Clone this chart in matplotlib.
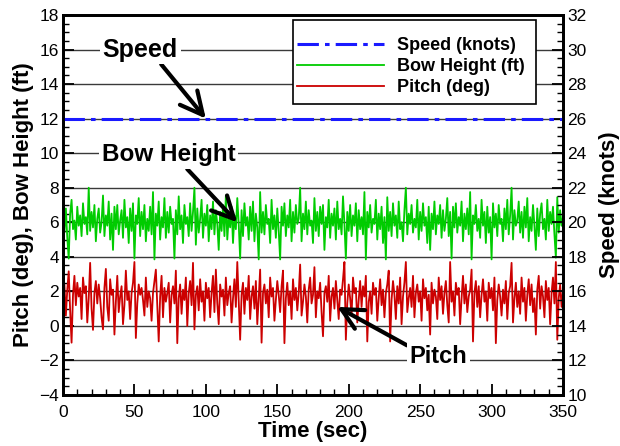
import matplotlib
matplotlib.use("Agg")
import matplotlib.pyplot as plt
from matplotlib.ticker import MultipleLocator
from matplotlib.patches import Rectangle

plt.rcParams['font.family'] = ['Liberation Sans', 'DejaVu Sans']

# ---- data (1 sample per second, t = 0..350) ----
time_sec = list(range(0, 351))

bow_height_ft = [
    6.2, 5.4, 6.8, 5.1, 3.9, 6.5, 7.3, 5.6, 6.1, 5.0,
    6.9, 5.8, 6.4, 5.2, 7.1, 5.9, 6.3, 5.3, 8.0, 5.5,
    6.6, 5.7, 7.0, 4.9, 6.2, 6.8, 5.4, 6.0, 7.55, 5.2,
    6.4, 5.8, 7.2, 5.0, 6.5, 4.4, 6.9, 5.6, 7.0, 5.3,
    6.1, 6.7, 5.1, 7.3, 5.7, 6.3, 4.8, 6.8, 5.5, 7.1,
    3.9, 6.4, 5.9, 7.4, 5.2, 6.6, 5.6, 7.0, 4.9, 6.2,
    5.5, 6.9, 5.3, 7.75, 3.85, 6.5, 5.8, 7.2, 5.0, 6.3,
    5.7, 7.4, 5.1, 6.6, 5.4, 6.9, 5.9, 6.2, 3.9, 6.7,
    5.3, 7.5, 5.6, 6.4, 4.8, 7.0, 5.9, 6.3, 5.2, 7.1,
    5.5, 6.6, 8.0, 4.7, 6.8, 5.4, 6.2, 7.3, 5.1, 6.5,
    5.8, 7.0, 4.9, 6.4, 5.6, 7.2, 5.3, 6.7, 5.9, 4.4,
    6.6, 5.5, 7.0, 5.2, 7.55, 5.0, 6.3, 5.7, 6.9, 4.8,
    6.4, 5.6, 7.4, 5.9, 3.9, 6.7, 5.2, 7.1, 5.8, 6.3,
    5.0, 6.9, 5.5, 7.2, 4.9, 6.5, 5.7, 3.85, 7.75, 5.4,
    6.6, 5.3, 7.0, 5.9, 6.2, 4.8, 7.3, 5.6, 6.4, 5.1,
    6.8, 5.5, 3.85, 6.9, 5.8, 7.1, 5.2, 6.4, 5.7, 7.3,
    4.9, 6.6, 5.4, 7.0, 5.9, 6.2, 8.0, 4.9, 6.5, 5.6,
    7.2, 5.3, 6.7, 5.8, 6.1, 4.8, 7.4, 5.5, 6.6, 5.2,
    6.9, 5.9, 7.0, 4.4, 6.3, 5.7, 7.3, 5.1, 6.5, 5.8,
    6.8, 5.0, 7.2, 5.6, 6.2, 5.3, 7.5, 5.9, 3.9, 6.6,
    5.5, 7.0, 5.2, 6.4, 5.8, 7.1, 4.9, 6.7, 5.6, 6.3,
    5.3, 7.75, 3.85, 6.6, 5.7, 7.0, 5.4, 6.2, 5.9, 7.3,
    5.0, 6.5, 5.6, 6.9, 4.8, 6.3, 3.85, 7.45, 5.5, 6.6,
    5.2, 7.1, 5.8, 6.4, 5.1, 7.2, 5.6, 6.0, 4.9, 6.7,
    8.0, 5.3, 6.5, 5.9, 7.0, 5.4, 6.2, 5.7, 7.3, 5.0,
    6.6, 5.5, 7.1, 5.8, 6.3, 4.8, 6.9, 4.4, 6.5, 5.6,
    7.2, 5.3, 6.4, 5.9, 7.0, 5.1, 6.7, 5.5, 6.2, 7.4,
    5.2, 6.6, 3.9, 6.9, 5.7, 7.1, 5.4, 6.3, 5.8, 7.2,
    4.9, 6.5, 5.6, 6.8, 5.3, 7.75, 3.85, 6.4, 5.9, 7.0,
    5.5, 6.2, 5.1, 7.3, 5.8, 6.6, 4.8, 6.9, 5.4, 6.3,
    3.85, 7.1, 5.7, 6.5, 5.2, 7.0, 5.9, 6.2, 4.9, 6.8,
    5.6, 7.3, 5.3, 6.4, 8.0, 5.0, 6.7, 5.8, 6.1, 7.2,
    5.4, 6.6, 5.1, 6.9, 5.7, 7.4, 4.9, 6.3, 5.5, 7.0,
    5.8, 4.4, 6.8, 5.2, 6.5, 7.1, 5.6, 6.2, 5.0, 7.3,
    5.5, 6.6, 5.9, 6.9, 5.3, 3.95, 7.45, 5.4, 6.7, 5.8,
    6.3,
]

pitch_deg = [
    1.5, 2.4, 0.6, 2.1, 3.16, 0.9, -0.97, 1.8, 2.9, 1.2,
    2.5, 1.7, 2.2, 0.4, 2.8, 1.9, 2.3, 0.2, 1.6, 3.65,
    1.0, -0.23, 1.9, 2.6, 1.3, 2.4, 1.6, 0.5, -0.2, 2.2,
    3.3, 1.1, 0.3, 2.7, 1.8, 2.1, -0.5, 1.4, 2.9, 0.8,
    1.7, 2.3, 0.1, 1.2, 3.2, 1.5, 2.0, 0.4, 1.9, 2.5,
    3.7, -0.7, 1.3, 2.4, 1.8, 2.2, 1.5, 0.6, 2.8, 1.1,
    2.0, 1.6, 0.3, 1.9, 2.6, 3.26, 1.2, -0.9, 1.7, 2.9,
    0.5, 2.2, 1.4, 1.9, 2.5, 0.2, 1.8, 2.3, 1.3, 3.2,
    -1.0, 1.6, 2.4, 0.7, 2.1, 1.5, 2.8, 0.0, 1.9, 2.6,
    1.2, 3.65, -0.2, 1.8, 2.3, 0.9, 2.7, 1.4, 2.0, 0.3,
    2.5, 1.6, 2.2, 0.5, 1.9, 2.9, 0.8, 3.26, 1.3, 0.1,
    2.4, 1.7, 2.1, 0.6, 2.8, 1.2, 1.9, 2.3, 0.2, 1.6,
    2.7, 1.1, 3.7, 1.4, -0.8, 1.8, 2.5, 0.7, 2.2, 1.5,
    2.9, 0.4, 1.7, 2.3, 1.0, 2.6, 0.1, 1.6, 3.26, -0.97,
    1.9, 2.4, 1.3, 2.1, 0.5, 2.8, 1.7, 2.2, 0.3, 1.5,
    2.6, 1.8, 0.8, 2.3, 3.2, -1.0, 1.6, 2.5, 1.2, 2.0,
    0.4, 2.7, 1.5, 2.2, 0.9, 1.9, 3.55, 0.6, 1.4, 2.4,
    1.7, 0.2, 2.1, 2.8, 1.3, 1.8, 3.4, 0.5, 2.0, 1.6,
    2.5, 0.8, -0.6, 1.9, 2.3, 1.4, 2.9, 0.3, 1.7, 2.2,
    1.0, 2.6, 1.5, 0.4, 2.1, 1.8, 2.7, 3.7, -0.8, 1.3,
    2.4, 1.6, 0.6, 2.8, 1.9, 2.2, 0.2, 1.5, 2.6, 1.1,
    2.3, 1.7, 2.9, -0.9, 1.4, 2.0, 0.7, 2.5, 1.8, 2.2,
    0.3, 1.6, 2.7, 1.2, 2.1, 0.5, 1.9, 2.4, 3.2, -0.9,
    1.5, 2.6, 1.8, 0.4, 2.3, 1.3, 2.8, 0.1, 1.7, 2.5,
    3.7, 0.8, 1.6, 2.2, 1.1, 2.9, 0.5, 1.9, 2.4, 1.4,
    2.0, 0.3, 2.7, 1.6, 2.2, 0.9, 1.8, -0.5, 2.5, 1.3,
    2.1, 1.7, 0.4, 2.8, 1.5, 2.3, 0.7, 1.9, 2.6, 1.2,
    0.2, 3.7, 1.4, 2.0, 0.6, 2.5, 1.8, 2.2, 0.1, 1.6,
    2.9, 1.3, 2.4, 0.8, 1.7, 2.1, 3.26, -0.9, 1.9, 2.6,
    1.1, 2.3, 0.5, 1.8, 2.7, 1.4, 2.0, 0.3, 2.5, 1.6,
    2.2, 0.9, 2.8, -1.0, 1.5, 2.4, 1.7, 0.6, 2.1, 1.3,
    2.6, 0.4, 1.9, 2.3, 3.65, 0.2, 1.6, 2.5, 1.1, 2.0,
    0.7, 2.8, 1.4, 2.2, 0.3, 1.8, 2.7, 1.2, 2.4, 0.8,
    1.6, -0.5, 2.1, 2.9, 1.0, 2.3, 1.7, 0.5, 2.6, 1.5,
    2.2, 0.1, 1.9, 2.8, 1.3, 3.7, -0.8, 1.6, 2.4, 1.1,
    2.0,
]

speed_time = [0, 350]
speed_knots = [26, 26]

x_ticks = [0, 50, 100, 150, 200, 250, 300, 350]
left_ticks = [-4, -2, 0, 2, 4, 6, 8, 10, 12, 14, 16, 18]
right_ticks = [10, 12, 14, 16, 18, 20, 22, 24, 26, 28, 30, 32]

# ---- figure ----
fig = plt.figure(figsize=(6.2, 4.46), dpi=100)
ax = fig.add_axes([63/620, 1 - 395/446, 500/620, 380/446])
ax2 = ax.twinx()

for y in left_ticks[1:-1]:
    ax.axhline(y, color='#3a3a3a', lw=1.0, zorder=1)

ln_bow, = ax.plot(time_sec, bow_height_ft, color='#00cc00', lw=1.3, zorder=2,
                  label='Bow Height (ft)')
ln_pitch, = ax.plot(time_sec, pitch_deg, color='#cc0000', lw=1.3, zorder=2,
                    label='Pitch (deg)')
ln_speed, = ax2.plot(speed_time, speed_knots, color='#1a1aff', lw=2.2,
                     dashes=[7, 2, 1.5, 2], label='Speed (knots)')

ax.set_xlim(0, 350)
ax.set_ylim(-4, 18)
ax2.set_ylim(10, 32)
ax.set_xticks(x_ticks)
ax.set_yticks(left_ticks)
ax2.set_yticks(right_ticks)
ax.xaxis.set_minor_locator(MultipleLocator(10))
ax.yaxis.set_minor_locator(MultipleLocator(0.5))
ax2.yaxis.set_minor_locator(MultipleLocator(0.5))

for a in (ax, ax2):
    a.tick_params(which='major', direction='in', length=8, width=1.3,
                  labelsize=12.5, pad=3)
    a.tick_params(which='minor', direction='in', length=4, width=1.0)
    for s in a.spines.values():
        s.set_linewidth(2)
ax.tick_params(axis='x', pad=7)

ax.set_xlabel('Time (sec)', fontsize=16, fontweight='bold', labelpad=1)
ax.set_ylabel('Pitch (deg), Bow Height (ft)', fontsize=16, fontweight='bold',
              labelpad=4)
ax2.set_ylabel('Speed (knots)', fontsize=16, fontweight='bold', labelpad=9)

# legend frame (drawn separately so the inner padding can match)
ax2.add_patch(Rectangle((0.460, 0.766), 0.486, 0.221, transform=ax2.transAxes,
                        fc='white', ec='black', lw=1.2, zorder=4))
leg = ax2.legend(handles=[ln_speed, ln_bow, ln_pitch], loc='upper left',
                 bbox_to_anchor=(0.468, 0.941), borderaxespad=0,
                 prop={'weight': 'bold', 'size': 13}, handlelength=4.8,
                 frameon=False, borderpad=0, labelspacing=0.22,
                 handletextpad=0.72)
leg.set_zorder(6)

box = dict(fc='white', ec='none', pad=2)
arrow = dict(arrowstyle='->,head_length=0.9,head_width=0.45', color='black',
             lw=3, shrinkA=0, shrinkB=0)
ax2.annotate('Speed', xy=(100, 26), xytext=(54, 30.0),
             fontsize=18, fontweight='bold',
             ha='center', va='center', bbox=box,
             arrowprops=dict(arrow, relpos=(0.75, 0.0)), zorder=5)
ax.annotate('Bow Height', xy=(122, 6.0), xytext=(74, 9.9), fontsize=17.5,
            fontweight='bold', ha='center', va='center', bbox=box,
            arrowprops=dict(arrow, relpos=(0.62, 0.0)), zorder=5)
ax.annotate('Pitch', xy=(192, 1.1), xytext=(263, -1.75), fontsize=17,
            fontweight='bold', ha='center', va='center', bbox=box,
            arrowprops=dict(arrow, relpos=(0.0, 0.9)), zorder=5)

fig.savefig('out.png', dpi=100)
